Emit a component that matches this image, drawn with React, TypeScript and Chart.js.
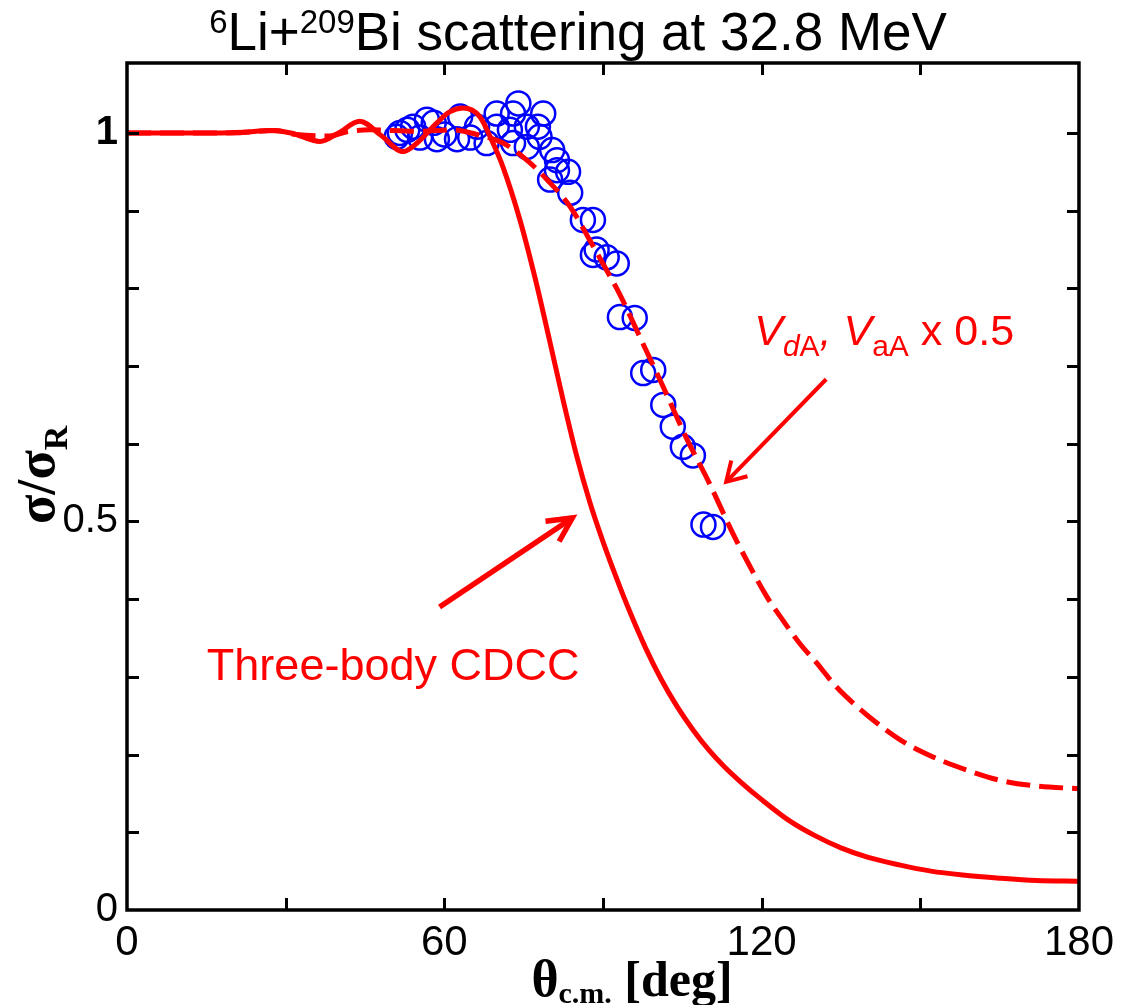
import React, { useEffect, useRef } from 'react';
import { Chart, registerables } from 'chart.js';

Chart.register(...registerables);

// ---------- data ----------
// Three-body CDCC (solid)
const cdccAngle = [0, 10, 17, 22, 27, 31, 36.5, 40, 44, 48, 52.2, 55, 58.6, 61, 63.5, 66.7, 69.2, 71.1, 74.3, 77.1, 80, 82.5, 85, 87.5, 90, 92.5, 95, 98, 101, 104, 107, 110, 113, 116, 120, 125, 130, 135, 140, 146, 152, 158, 165, 172, 180];
const cdccRatio = [1.0, 1.0, 1.0, 1.001, 1.003, 1.0, 0.989, 1.0, 1.015, 0.997, 0.976, 0.988, 1.013, 1.027, 1.032, 1.021, 0.987, 0.956, 0.888, 0.815, 0.73, 0.655, 0.585, 0.525, 0.474, 0.428, 0.385, 0.338, 0.297, 0.262, 0.232, 0.206, 0.184, 0.165, 0.142, 0.116, 0.096, 0.08, 0.068, 0.058, 0.05, 0.045, 0.041, 0.038, 0.037];

// V_dA, V_aA x 0.5 (dashed)
const scaledAngle = [0, 20, 28, 32, 38, 42, 46, 55, 61.6, 66.7, 71.1, 75.6, 79.4, 83.8, 87.5, 90.8, 93.2, 97, 101.4, 105.8, 110.2, 114.6, 117.8, 121, 124, 127.2, 130.4, 133.5, 136.7, 139.9, 146.2, 152.4, 158.8, 165, 171.3, 180];
const scaledRatio = [1.0, 1.0, 1.003, 0.998, 0.996, 1.002, 1.004, 1.002, 1.004, 0.997, 0.987, 0.965, 0.94, 0.905, 0.862, 0.822, 0.792, 0.737, 0.673, 0.607, 0.548, 0.484, 0.442, 0.403, 0.373, 0.343, 0.318, 0.292, 0.27, 0.251, 0.219, 0.197, 0.18, 0.167, 0.16, 0.156];

// Experimental data (circles)
const expAngle = [51.0, 51.6, 53.0, 54.1, 55.4, 56.7, 58.0, 58.6, 60.0, 62.4, 63.0, 64.9, 66.2, 68.0, 69.9, 69.9, 72.4, 73.0, 73.0, 74.0, 75.6, 75.6, 77.7, 78.0, 78.7, 80.0, 80.4, 81.3, 81.3, 83.4, 83.8, 86.2, 88.1, 88.1, 88.8, 90.7, 92.6, 93.2, 96.0, 97.6, 99.5, 101.4, 103.2, 105.1, 107.0, 109.0, 110.8];
const expRatio = [0.995, 1.0, 1.004, 1.008, 0.994, 1.017, 1.013, 0.992, 0.998, 0.992, 1.021, 0.994, 1.008, 0.987, 1.025, 1.008, 1.004, 1.025, 0.987, 1.038, 1.008, 0.982, 1.008, 0.995, 1.025, 0.94, 0.978, 0.965, 0.952, 0.95, 0.923, 0.888, 0.888, 0.843, 0.85, 0.84, 0.832, 0.763, 0.762, 0.691, 0.695, 0.65, 0.622, 0.596, 0.585, 0.496, 0.493];

// tick labels
const xTickLabels = ['0', '60', '120', '180'];
const yTickLabels = ['0', '0.5', '1'];

const SANS = '"Liberation Sans", Arial, sans-serif';
const SERIF = '"Liberation Serif", "Times New Roman", serif';
const RED = '#ff0000';

type Run = { text: string; font: string; dy?: number };

function runsWidth(ctx: CanvasRenderingContext2D, runs: Run[]) {
  let w = 0;
  for (const r of runs) {
    ctx.font = r.font;
    w += ctx.measureText(r.text).width;
  }
  return w;
}

function drawRuns(ctx: CanvasRenderingContext2D, x: number, y: number, runs: Run[]) {
  let cx = x;
  for (const r of runs) {
    ctx.font = r.font;
    ctx.fillText(r.text, cx, y + (r.dy || 0));
    cx += ctx.measureText(r.text).width;
  }
}

function arrow(ctx: CanvasRenderingContext2D, x0: number, y0: number, x1: number, y1: number, lw: number, len: number, ang: number) {
  ctx.save();
  ctx.strokeStyle = RED;
  ctx.lineWidth = lw;
  ctx.lineCap = 'butt';
  ctx.lineJoin = 'miter';
  ctx.beginPath();
  ctx.moveTo(x0, y0);
  ctx.lineTo(x1, y1);
  ctx.stroke();
  const back = Math.atan2(y0 - y1, x0 - x1);
  ctx.beginPath();
  ctx.moveTo(x1 + len * Math.cos(back + ang), y1 + len * Math.sin(back + ang));
  ctx.lineTo(x1, y1);
  ctx.lineTo(x1 + len * Math.cos(back - ang), y1 + len * Math.sin(back - ang));
  ctx.stroke();
  ctx.restore();
}

const decoPlugin = {
  id: 'deco',
  afterDraw(chart: any) {
    const { ctx, chartArea: a, scales } = chart;
    const xs = scales.x;
    const ys = scales.y;
    const X = (v: number) => xs.getPixelForValue(v);
    const Y = (v: number) => ys.getPixelForValue(v);
    ctx.save();

    // frame
    ctx.strokeStyle = '#000';
    ctx.lineWidth = 3.5;
    ctx.strokeRect(a.left, a.top, a.right - a.left, a.bottom - a.top);

    // inward tick marks on all four sides
    ctx.lineWidth = 3;
    ctx.beginPath();
    for (const t of ys.ticks) {
      if (t.value <= 0.001 || t.value > 1.001) continue;
      const py = Math.round(Y(t.value)) + 0.5;
      ctx.moveTo(a.left, py);
      ctx.lineTo(a.left + 12, py);
      ctx.moveTo(a.right, py);
      ctx.lineTo(a.right - 12, py);
    }
    for (const t of xs.ticks) {
      if (t.value <= 0.001 || t.value >= 179.999) continue;
      const px = Math.round(X(t.value)) + 0.5;
      ctx.moveTo(px, a.bottom);
      ctx.lineTo(px, a.bottom - 12);
      ctx.moveTo(px, a.top);
      ctx.lineTo(px, a.top + 12);
    }
    ctx.stroke();

    // title
    ctx.fillStyle = '#000';
    ctx.textBaseline = 'alphabetic';
    ctx.textAlign = 'left';
    const titleRuns: Run[] = [
      { text: '6', font: `33px ${SANS}`, dy: -17 },
      { text: 'Li+', font: `53px ${SANS}` },
      { text: '209', font: `33px ${SANS}`, dy: -17 },
      { text: 'Bi scattering at 32.8 MeV', font: `53px ${SANS}` },
    ];
    const tw = runsWidth(ctx, titleRuns);
    drawRuns(ctx, 578 - tw / 2, 50, titleRuns);

    // x-axis title
    const xtRuns: Run[] = [
      { text: 'θ', font: `bold 52px ${SERIF}` },
      { text: 'c.m.', font: `bold 30px ${SERIF}`, dy: 7 },
      { text: ' [deg]', font: `bold 50px ${SERIF}` },
    ];
    const xw = runsWidth(ctx, xtRuns);
    drawRuns(ctx, 632 - xw / 2, 996, xtRuns);

    // y-axis title (rotated)
    ctx.save();
    ctx.translate(54, 524);
    ctx.rotate(-Math.PI / 2);
    drawRuns(ctx, 0, 0, [
      { text: 'σ/σ', font: `bold 54px ${SERIF}` },
      { text: 'R', font: `bold 34px ${SERIF}`, dy: 13 },
    ]);
    ctx.restore();

    // annotations
    ctx.fillStyle = RED;
    ctx.font = `45px ${SANS}`;
    ctx.fillText('Three-body CDCC', X(15.1), Y(0.296));
    arrow(ctx, X(59.1), Y(0.39), X(84.2), Y(0.5045), 5.5, 27, 0.47);

    drawRuns(ctx, X(118.6), Y(0.727), [
      { text: 'V', font: `italic 43px ${SANS}` },
      { text: 'd', font: `italic 30px ${SANS}`, dy: 11 },
      { text: 'A', font: `30px ${SANS}`, dy: 11 },
      { text: ', ', font: `italic 43px ${SANS}` },
      { text: 'V', font: `italic 43px ${SANS}` },
      { text: 'aA', font: `30px ${SANS}`, dy: 11 },
      { text: ' x 0.5', font: `43px ${SANS}` },
    ]);
    arrow(ctx, X(132.2), Y(0.683), X(113.3), Y(0.551), 4, 22, 0.54);

    ctx.restore();
  },
};

const near = (v: number, t: number) => Math.abs(v - t) < 1e-6;

export default function App() {
  const ref = useRef<HTMLCanvasElement | null>(null);

  useEffect(() => {
    if (!ref.current) return;
    const chart = new Chart(ref.current, {
      type: 'line',
      data: {
        datasets: [
          {
            label: 'Three-body CDCC',
            data: cdccAngle.map((x, i) => ({ x, y: cdccRatio[i] })),
            borderColor: RED,
            borderWidth: 5,
            pointRadius: 0,
            fill: false,
            cubicInterpolationMode: 'monotone',
            order: 0,
          },
          {
            label: 'VdA, VaA x 0.5',
            data: scaledAngle.map((x, i) => ({ x, y: scaledRatio[i] })),
            borderColor: RED,
            borderWidth: 5,
            borderDash: [24, 9],
            pointRadius: 0,
            fill: false,
            cubicInterpolationMode: 'monotone',
            order: 0,
          },
          {
            label: 'Experiment',
            data: expAngle.map((x, i) => ({ x, y: expRatio[i] })),
            showLine: false,
            pointStyle: 'circle',
            pointRadius: 12,
            pointBorderWidth: 2.5,
            pointBorderColor: '#0000ff',
            pointBackgroundColor: 'rgba(0,0,0,0)',
            borderColor: '#0000ff',
            backgroundColor: 'rgba(0,0,0,0)',
            order: 1,
          },
        ] as any,
      },
      options: {
        animation: false,
        responsive: false,
        devicePixelRatio: 1,
        layout: { padding: { top: 63, right: 42, left: 0, bottom: 0 } },
        plugins: {
          legend: { display: false },
          tooltip: { enabled: false },
          title: { display: false },
        },
        scales: {
          x: {
            type: 'linear',
            min: 0,
            max: 180,
            grid: { display: false, drawTicks: false },
            border: { display: false },
            afterFit: (s: any) => {
              s.height = 95;
            },
            ticks: {
              stepSize: 30,
              autoSkip: false,
              maxRotation: 0,
              padding: 8,
              color: '#000',
              font: { family: SANS, size: 42 },
              callback: (v: any) => {
                const s = String(Math.round(Number(v)));
                return xTickLabels.includes(s) && Math.round(Number(v)) % 60 === 0 ? s : '';
              },
            },
          },
          y: {
            type: 'linear',
            min: 0,
            max: 1.09,
            grid: { display: false, drawTicks: false },
            border: { display: false },
            afterFit: (s: any) => {
              s.width = 127;
            },
            ticks: {
              stepSize: 0.1,
              includeBounds: false,
              autoSkip: false,
              padding: 9,
              color: '#000',
              font: (c: any) => ({
                family: SANS,
                size: 40,
                weight: c.tick && near(c.tick.value, 1) ? 'bold' : 'normal',
              }),
              callback: (v: any) => {
                const n = Number(v);
                if (near(n, 0)) return yTickLabels[0];
                if (near(n, 0.5)) return yTickLabels[1];
                if (near(n, 1)) return yTickLabels[2];
                return '';
              },
            },
          },
        },
      } as any,
      plugins: [decoPlugin],
    });
    return () => chart.destroy();
  }, []);

  return (
    <div style={{ position: 'absolute', left: 0, top: 0, width: 1122, height: 1005, background: '#fff' }}>
      <canvas ref={ref} width={1122} height={1005} />
    </div>
  );
}
